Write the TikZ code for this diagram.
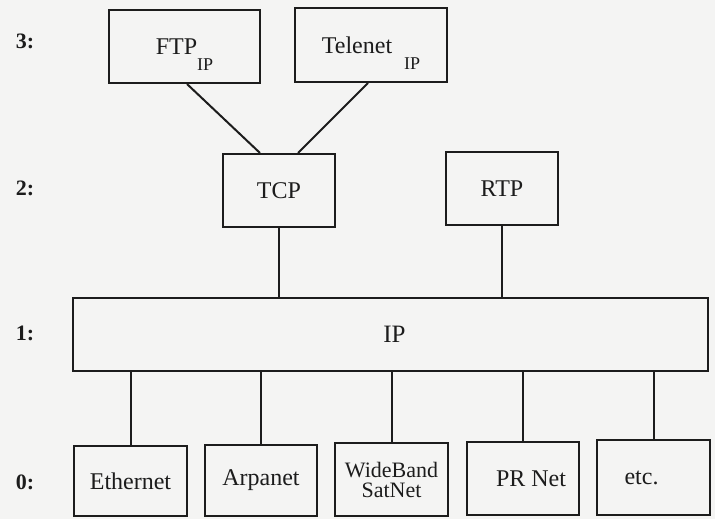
\documentclass[tikz,border=0pt]{standalone}
\usepackage{fontspec}
\setmainfont{Liberation Serif}
\usetikzlibrary{calc}
\definecolor{paper}{RGB}{244,244,243}
\definecolor{ink}{RGB}{28,28,28}
\tikzset{
  layerbox/.style={draw=ink, line width=2pt, inner sep=0pt, text=ink,
    font=\fontsize{24}{26}\selectfont},
  conn/.style={draw=ink, line width=2pt},
  lvl/.style={text=ink, font=\bfseries\fontsize{22}{24}\selectfont, inner sep=0pt}
}
\newcommand{\subip}[1]{\raisebox{-16pt}[0pt][0pt]{\hspace*{#1}\fontsize{18}{18}\selectfont IP}}
\begin{document}
\begin{tikzpicture}[x=1pt,y=-1pt]
\useasboundingbox (0,0) rectangle (715,519);
\fill[paper] (0,0) rectangle (715,519);
% level labels
\node[lvl] (l3) at (25,41) {3:};
\node[lvl] (l2) at (25,188) {2:};
\node[lvl] (l1) at (25,333) {1:};
\node[lvl] (l0) at (25,482) {0:};
% level 3
\node[layerbox, minimum width=151pt, minimum height=73pt] (ftp) at (184.5,46.5) {FTP\subip{0pt}};
\node[layerbox, minimum width=152pt, minimum height=74pt] (tel) at (371,45) {Telenet\subip{12pt}};
% level 2
\node[layerbox, minimum width=112pt, minimum height=73pt] (tcp) at (279,190.5) {TCP};
\node[layerbox, minimum width=112pt, minimum height=73pt] (rtp) at (502,188.5) {RTP};
% level 1
\node[layerbox, minimum width=635pt, minimum height=73pt, font=\fontsize{25}{27}\selectfont] (ip) at (390.5,334.5) {\hspace*{8pt}IP};
% level 0
\node[layerbox, minimum width=113pt, minimum height=70pt] (eth) at (130.5,481) {Ethernet};
\node[layerbox, minimum width=112pt, minimum height=71pt] (arp) at (261,480.5) {Arpanet};
\node[layerbox, minimum width=113pt, minimum height=73pt, align=center, font=\fontsize{22}{20}\selectfont] (wb) at (391.5,479.5) {WideBand\\SatNet};
\node[layerbox, minimum width=112pt, minimum height=73pt] (pr) at (523,478.5) {\hspace*{16pt}PR Net};
\node[layerbox, minimum width=113pt, minimum height=75pt] (etc) at (653.5,477.5) {etc.\hspace*{24pt}};
% connectors
\draw[conn] ($(ftp.south)+(2.5,0)$) -- ($(tcp.north)+(-19,0)$);
\draw[conn] ($(tel.south)+(-3,0)$) -- ($(tcp.north)+(19,0)$);
\draw[conn] (tcp.south) -- (tcp.south |- ip.north);
\draw[conn] (rtp.south) -- (rtp.south |- ip.north);
\draw[conn] (eth.north) -- (eth.north |- ip.south);
\draw[conn] (arp.north) -- (arp.north |- ip.south);
\draw[conn] (wb.north) -- (wb.north |- ip.south);
\draw[conn] (pr.north) -- (pr.north |- ip.south);
\draw[conn] (etc.north) -- (etc.north |- ip.south);
\end{tikzpicture}
\end{document}
